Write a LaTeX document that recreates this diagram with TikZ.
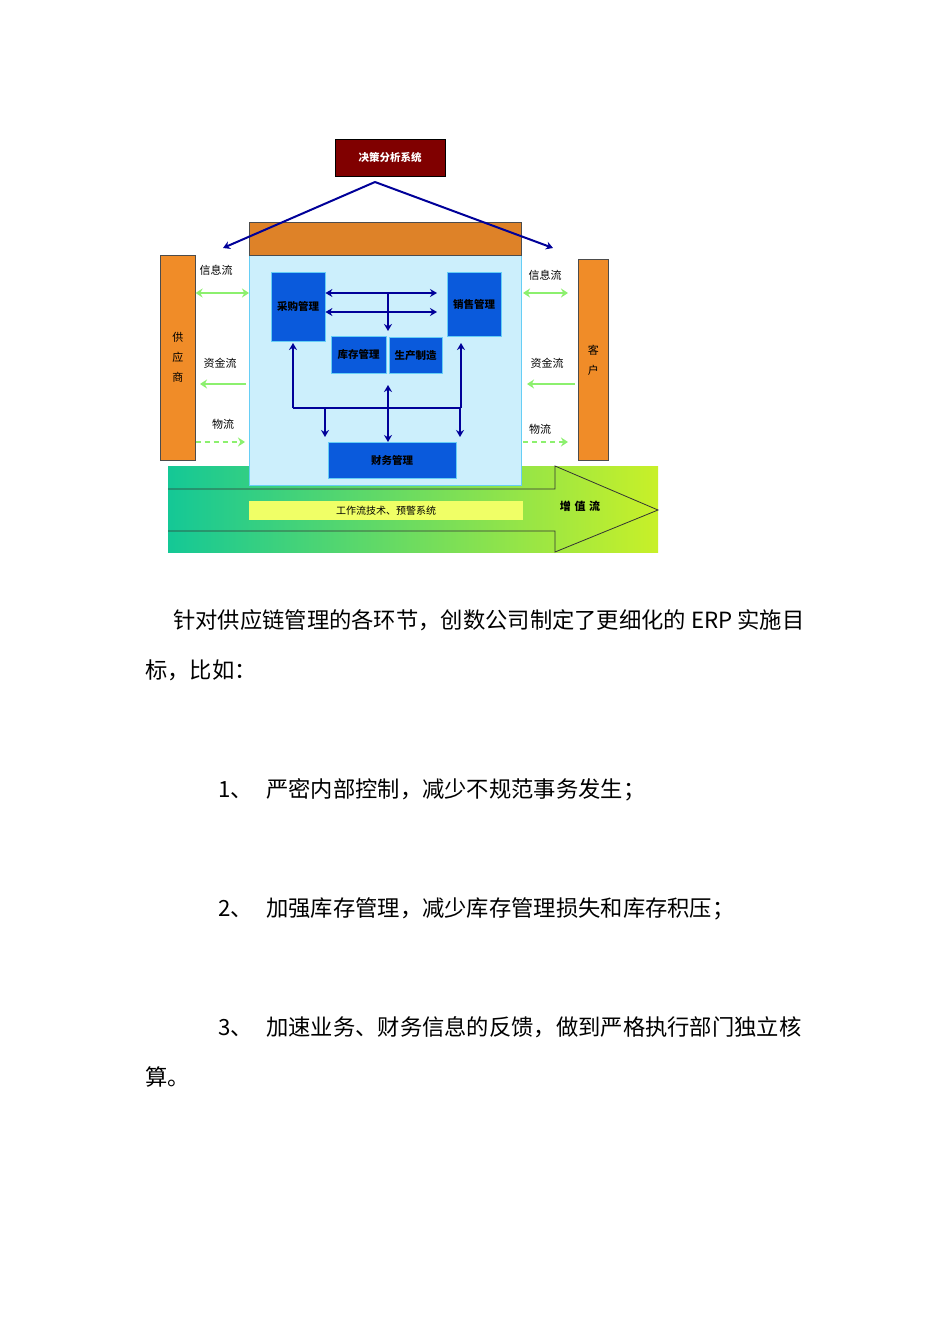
\documentclass[tikz,border=0pt]{standalone}
\usepackage{fontspec}
\setmainfont{Noto Sans CJK SC}
\newfontfamily\cjk{Noto Sans CJK SC}
\usetikzlibrary{arrows.meta}
\definecolor{bbox}{RGB}{10,90,220}
\definecolor{roofc}{RGB}{222,130,40}
\definecolor{barc}{RGB}{240,140,40}
\definecolor{gl}{RGB}{20,200,150}
\definecolor{gr}{RGB}{200,240,40}
\definecolor{fl}{RGB}{140,240,110}
\begin{document}
\begin{tikzpicture}[x=1pt,y=-1pt,
  bluebox/.style={draw=cyan!60,fill=bbox,text=black,font=\cjk\fontsize{10.5}{10.5}\selectfont\bfseries,inner sep=0pt},
  bar/.style={draw=black!70,fill=barc,line width=0.6pt},
  lab/.style={font=\cjk\fontsize{11}{11}\selectfont,inner sep=0pt},
  flow/.style={draw=fl,line width=2.5pt,-{Stealth[length=7pt,width=9pt]}},
  barr/.style={draw=blue!60!black,line width=2pt,-{Stealth[length=7pt,width=8pt]}},
  txt/.style={font=\cjk\fontsize{22.3}{22.3}\selectfont,anchor=base west,inner sep=0pt}]
\useasboundingbox (0,0) rectangle (950,1344);
\fill[white] (0,0) rectangle (950,1344);
% bottom green gradient
\shade[left color=gl, right color=gr] (168,466) rectangle (658,552);
\draw[black!80,line width=0.8pt] (168,489) -- (555,489) -- (555,466) -- (658,510) -- (555,552) -- (555,531) -- (168,531);
% main house
\node[draw=cyan!60,fill=cyan!20,minimum width=272pt,minimum height=230pt,anchor=north west,inner sep=0pt] (main) at (249,255) {};
\node[draw=black!70,fill=roofc,minimum width=272pt,minimum height=33pt,anchor=north west,inner sep=0pt] (roof) at (249,222) {};
\node[draw=black,fill=red!50!black,minimum width=110pt,minimum height=37pt,anchor=north west,inner sep=0pt,text=white,font=\cjk\fontsize{10.5}{10.5}\selectfont\bfseries] (jc) at (335,139) {决策分析系统};
\coordinate (apex) at (375,182);
\coordinate (lt) at (223,248);
\coordinate (rt) at (553,248);
\draw[barr] (apex) -- (lt);
\draw[barr] (apex) -- (rt);
% bars
\node[bar,minimum width=35pt,minimum height=205pt,anchor=north west,inner sep=0pt,font=\cjk\fontsize{11}{20}\selectfont,align=center] (sup) at (160,255) {供\\应\\商};
\node[bar,minimum width=30pt,minimum height=201pt,anchor=north west,inner sep=0pt,font=\cjk\fontsize{11}{20}\selectfont,align=center] (cus) at (578,259) {客\\户};
% blue boxes
\node[bluebox,minimum width=54pt,minimum height=69pt,anchor=north west] (cg) at (271,272) {采购管理};
\node[bluebox,minimum width=54pt,minimum height=64pt,anchor=north west] (xs) at (447,272) {销售管理};
\node[bluebox,minimum width=55pt,minimum height=37pt,anchor=north west] (kc) at (331,336) {库存管理};
\node[bluebox,minimum width=53pt,minimum height=36pt,anchor=north west] (sc) at (389,337) {生产制造};
\node[bluebox,minimum width=128pt,minimum height=36pt,anchor=north west] (cw) at (328,442) {财务管理};
% inner arrows
\draw[barr,{Stealth[length=7pt,width=8pt]}-{Stealth[length=7pt,width=8pt]}] (cg.east|-0,293) -- (437,293);
\draw[barr,{Stealth[length=7pt,width=8pt]}-{Stealth[length=7pt,width=8pt]}] (cg.east|-0,312) -- (437,312);
\draw[barr] (388,293) -- (388,331);
\coordinate (hl) at (293,408); \coordinate (hr) at (461,408);
\draw[blue!60!black,line width=2pt] (hl) -- (hr);
\draw[barr] (hl) -- (293,343);
\draw[barr] (hr) -- (461,343);
\draw[barr,{Stealth[length=7pt,width=8pt]}-{Stealth[length=7pt,width=8pt]}] (388,385) -- (cw.north-|388,0);
\draw[barr] (325,408) -- (325,437);
\draw[barr] (460,408) -- (460,437);
% band
\node[fill=lime!40!yellow!60,minimum width=274pt,minimum height=19pt,anchor=north west,inner sep=0pt,font=\cjk\fontsize{10}{10}\selectfont] (band) at (249,501) {工作流技术、预警系统};
\node[font=\cjk\fontsize{11}{11}\selectfont\bfseries,inner sep=0pt] (zz) at (580,506) {增\,\,值\,\,流};
% flows left
\node[lab] (l1) at (216,270) {信息流};
\node[lab] (l2) at (220,363) {资金流};
\node[lab] (l3) at (223,424) {物流};
\draw[flow,{Stealth[length=7pt,width=9pt]}-{Stealth[length=7pt,width=9pt]}] (sup.east|-0,293) -- (main.west|-0,293);
\draw[flow] (246,384) -- (200,384);
\draw[flow,dash pattern=on 5pt off 4pt] (sup.east|-0,442) -- (245,442);
\node[lab] (r1) at (545,275) {信息流};
\node[lab] (r2) at (547,363) {资金流};
\node[lab] (r3) at (540,429) {物流};
\draw[flow,{Stealth[length=7pt,width=9pt]}-{Stealth[length=7pt,width=9pt]}] (523,293) -- (568,293);
\draw[flow] (575,384) -- (527,384);
\draw[flow,dash pattern=on 5pt off 4pt] (523,442) -- (568,442);
% text
\node[txt] (p1) at (173,628) {针对供应链管理的各环节，创数公司制定了更细化的 ERP 实施目};
\node[txt] (p2) at (145,678) {标，比如：};
\node[txt] (n1) at (218,797) {1、};
\node[txt] (t1) at (266,797) {严密内部控制，减少不规范事务发生；};
\node[txt] (n2) at (218,916) {2、};
\node[txt] (t2) at (266,916) {加强库存管理，减少库存管理损失和库存积压；};
\node[txt] (n3) at (218,1035) {3、};
\node[txt] (t3) at (266,1035) {加速业务、财务信息的反馈，做到严格执行部门独立核};
\node[txt] (p3) at (145,1085) {算。};
\end{tikzpicture}
\end{document}
